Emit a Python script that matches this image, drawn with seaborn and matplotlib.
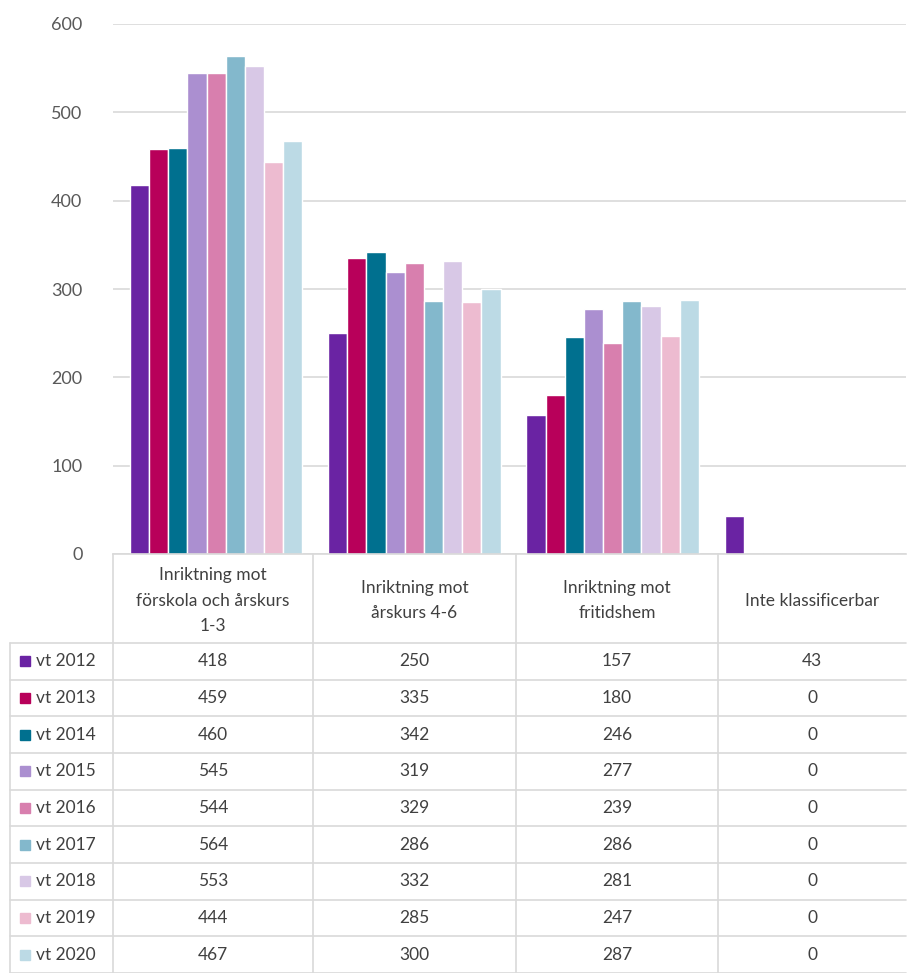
import numpy as np
import pandas as pd
import seaborn as sns
import matplotlib.pyplot as plt
from matplotlib.lines import Line2D
from matplotlib.patches import Rectangle

categories = ["Inriktning mot\nförskola och årskurs\n1-3", "Inriktning mot\nårskurs 4-6",
              "Inriktning mot\nfritidshem", "Inte klassificerbar"]
years = ["vt 2012", "vt 2013", "vt 2014", "vt 2015", "vt 2016",
         "vt 2017", "vt 2018", "vt 2019", "vt 2020"]
values = [
    [418, 250, 157, 43],
    [459, 335, 180, 0],
    [460, 342, 246, 0],
    [545, 319, 277, 0],
    [544, 329, 239, 0],
    [564, 286, 286, 0],
    [553, 332, 281, 0],
    [444, 285, 247, 0],
    [467, 300, 287, 0],
]
colors = ["#6A23A3", "#B8005A", "#00708F", "#AB8FD0", "#D87FAE",
          "#83B8CC", "#D8C8E6", "#EDBBD0", "#BCDAE5"]

rows = []
for yr, vals in zip(years, values):
    for cat, v in zip(categories, vals):
        rows.append({"kategori": cat, "år": yr, "antal": v})
df = pd.DataFrame(rows)

sns.set_style("white")
plt.rcParams['font.family'] = ['Lato', 'DejaVu Sans']

W, H = 907, 973
fig = plt.figure(figsize=(W / 100, H / 100), dpi=100)

def fx(px):
    return px / W

def fy(py):
    return 1 - py / H

ax_left, ax_right, ax_top, ax_bot = 113, 906, 24, 554
ax = fig.add_axes([fx(ax_left), fy(ax_bot), fx(ax_right - ax_left), fy(ax_top) - fy(ax_bot)])

sns.barplot(data=df, x="kategori", y="antal", hue="år", palette=colors, saturation=1,
            width=0.87, edgecolor="white", linewidth=1.0, legend=False, ax=ax)

ax.set_ylim(0, 600)
ax.set_xlim(-0.52, 3.48)
ax.set_yticks(range(0, 601, 100))
ax.yaxis.grid(True, color="#D9D9D9", linewidth=1.2)
ax.set_axisbelow(True)
ax.tick_params(axis="y", length=0, pad=22, labelsize=13, labelcolor="#595959")
ax.set_xticks([])
ax.set_xlabel("")
ax.set_ylabel("")
for s in ["top", "right", "left"]:
    ax.spines[s].set_visible(False)
ax.spines["bottom"].set_color("#D9D9D9")
ax.spines["bottom"].set_linewidth(1.2)

# data table below the chart
line_c = "#D9D9D9"
col_x = [113, 313, 516, 718, 906]
lab_left = 10
head_bot = 643
row_h = (973 - head_bot) / len(years)
row_y = [head_bot + i * row_h for i in range(len(years) + 1)]

def hline(x0, x1, y):
    fig.add_artist(Line2D([fx(x0), fx(x1)], [fy(y), fy(y)], color=line_c, lw=1.2))

def vline(x, y0, y1):
    fig.add_artist(Line2D([fx(x), fx(x)], [fy(y0), fy(y1)], color=line_c, lw=1.2))

for y in row_y:
    hline(lab_left, col_x[-1], y)
vline(lab_left, head_bot, 973)
for x in col_x[:-1]:
    vline(x, ax_bot, 973)

txt_c = "#404040"
for j, cat in enumerate(categories):
    cx = (col_x[j] + col_x[j + 1]) / 2
    fig.text(fx(cx), fy((ax_bot + head_bot) / 2 + 2), cat, ha="center", va="center",
             fontsize=12.5, color=txt_c, linespacing=1.75)

for i, (yr, vals) in enumerate(zip(years, values)):
    cy = (row_y[i] + row_y[i + 1]) / 2
    fig.add_artist(Rectangle((fx(20), fy(cy + 5)), fx(10), fy(cy - 5) - fy(cy + 5),
                             color=colors[i], transform=fig.transFigure))
    fig.text(fx(36), fy(cy), yr, ha="left", va="center", fontsize=12.5, color=txt_c)
    for j, v in enumerate(vals):
        cx = (col_x[j] + col_x[j + 1]) / 2
        fig.text(fx(cx), fy(cy), str(v), ha="center", va="center", fontsize=12.5, color=txt_c)

fig.savefig("out.png", dpi=100)
